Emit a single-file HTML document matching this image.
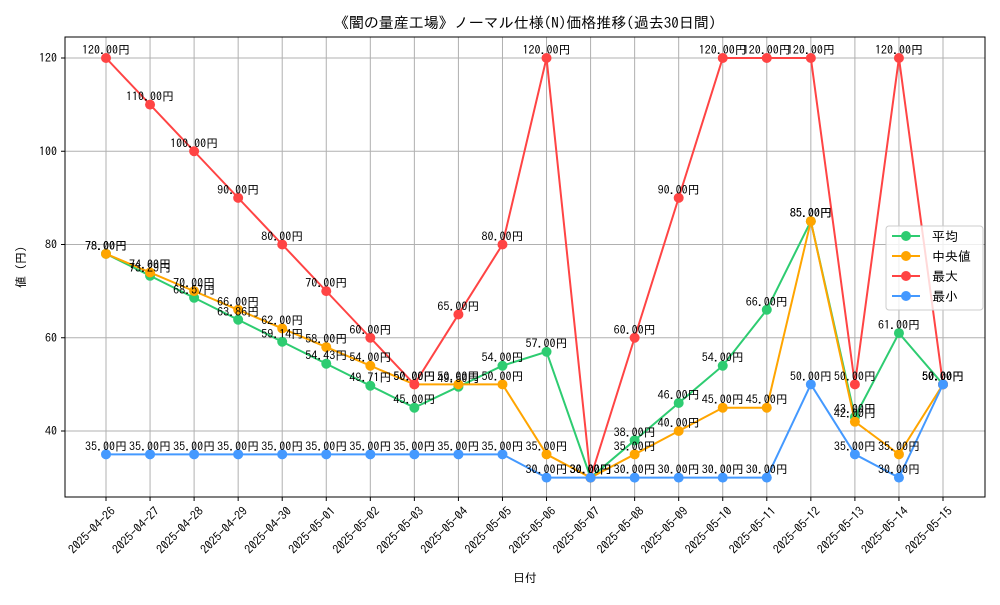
<!DOCTYPE html>
<html><head><meta charset="utf-8"><style>
body{margin:0;background:#fff;}
svg{font-family:"IPAGothic","Liberation Sans","Noto Sans CJK JP",sans-serif;}
</style></head><body>
<svg id="chart" width="1000" height="600" xmlns="http://www.w3.org/2000/svg">
<rect width="1000" height="600" fill="#fff"/>
<text x="525" y="28" text-anchor="middle" font-size="15">《闇の量産工場》ノーマル仕様(N)価格推移(過去30日間)</text>
<g id="grid"></g>
<g id="axes"></g>
<g id="series"></g>
<g id="labels"></g>
<rect x="65" y="37" width="920" height="460" fill="none" stroke="#000" stroke-width="1"/>
<text x="525" y="582" text-anchor="middle" font-size="12">日付</text>
<text transform="translate(25,267) rotate(-90)" text-anchor="middle" font-size="12">値 (円)</text>
<g id="legend"></g>
</svg>
<script>
const dates=["2025-04-26","2025-04-27","2025-04-28","2025-04-29","2025-04-30","2025-05-01","2025-05-02","2025-05-03","2025-05-04","2025-05-05","2025-05-06","2025-05-07","2025-05-08","2025-05-09","2025-05-10","2025-05-11","2025-05-12","2025-05-13","2025-05-14","2025-05-15"];
const meanVals=[78,73.29,68.57,63.86,59.14,54.43,49.71,45,49.5,54,57,30,38,46,54,66,85,43,61,50];
const medianVals=[78,74,70,66,62,58,54,50,50,50,35,30,35,40,45,45,85,42,35,50];
const maxVals=[120,110,100,90,80,70,60,50,65,80,120,30,60,90,120,120,120,50,120,50];
const minVals=[35,35,35,35,35,35,35,35,35,35,30,30,30,30,30,30,50,35,30,50];
const yTicks=[40,60,80,100,120];
const seriesNames=["平均","中央値","最大","最小"];
const NS="http://www.w3.org/2000/svg";
const xs=i=>106+i*(943-106)/(dates.length-1);
const ys=v=>58+(120-v)*(373/80);
function mk(tag,attrs,parent){const e=document.createElementNS(NS,tag);for(const k in attrs)e.setAttribute(k,attrs[k]);parent.appendChild(e);return e;}
const grid=document.getElementById('grid'),axes=document.getElementById('axes'),ser=document.getElementById('series'),lab=document.getElementById('labels'),leg=document.getElementById('legend');
dates.forEach((d,i)=>{
 const l=mk('line',{x1:xs(i),x2:xs(i),y1:37,y2:497,stroke:'#b0b0b0','stroke-width':1},grid);
 
 
 const t=mk('line',{x1:xs(i),x2:xs(i),y1:497,y2:501,stroke:'#000'},axes);
 
 
 const x=xs(i)+4,y=506;
 const tx=mk('text',{x:x,y:y,'text-anchor':'end','font-size':12,transform:`rotate(-45 ${x} ${y})`,dy:'0.7em'},axes);
 tx.textContent=d;
 
 
});
yTicks.forEach(v=>{
 const l=mk('line',{x1:65,x2:985,y1:ys(v),y2:ys(v),stroke:'#b0b0b0'},grid);
 
 
 const t=mk('line',{x1:61,x2:65,y1:ys(v),y2:ys(v),stroke:'#000'},axes);
 
 
 const tx=mk('text',{x:57,y:ys(v)+4,'text-anchor':'end','font-size':12},axes);
 tx.textContent=v;
 
 
});
const all=[[meanVals,'#2ecc71','mean'],[medianVals,'#ffa500','median'],[maxVals,'#ff4444','max'],[minVals,'#4499ff','min']];
all.forEach(([vals,col,key])=>{
 const pl=mk('polyline',{points:vals.map((v,i)=>xs(i)+','+ys(v)).join(' '),fill:'none',stroke:col,'stroke-width':2},ser);
 
 
 vals.forEach((v,i)=>{
  const c=mk('circle',{cx:xs(i),cy:ys(v),r:5,fill:col},ser);
  
  
  const t=mk('text',{x:xs(i),y:ys(v)-4,'text-anchor':'middle','font-size':12},lab);
  t.textContent=v.toFixed(2)+'円';
  
  
 });
});
const lb=mk('rect',{x:886,y:226,width:97,height:84,rx:3,fill:'#fff','fill-opacity':0.8,stroke:'#ccc'},leg);


all.forEach(([vals,col,key],k)=>{
 const y=236+k*20;
 const g=mk('g',{},leg);
 
 
 mk('line',{x1:892,x2:920,y1:y,y2:y,stroke:col,'stroke-width':2},g);
 mk('circle',{cx:906,cy:y,r:5,fill:col},g);
 const t=mk('text',{x:932,y:y+5,'font-size':13},g);
 t.textContent=seriesNames[k];
});
</script>
</body></html>
